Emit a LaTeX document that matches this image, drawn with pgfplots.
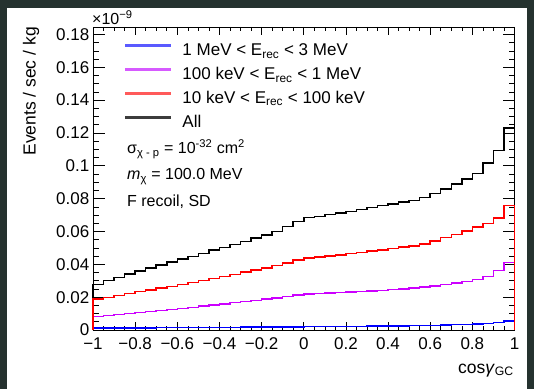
\documentclass[border=0pt]{standalone}
\usepackage{pgfplots}
\usepackage{pgfplotstable}
\pgfplotsset{compat=1.18}
\usepackage{fontspec}
\setmainfont{Liberation Sans}
\definecolor{rootblue}{RGB}{0,0,255}
\definecolor{rootmag}{RGB}{204,0,255}
\definecolor{rootred}{RGB}{255,0,0}
\definecolor{legblue}{RGB}{90,90,255}
\definecolor{legmag}{RGB}{214,90,255}
\definecolor{legred}{RGB}{255,90,90}
\definecolor{legblack}{RGB}{60,60,60}
\definecolor{bgdark}{RGB}{37,50,47}

\pgfplotstableread{
x      all     blue    mag     red
-1.00  0       0       0       0
-1.00  0.0278  0.0012  0.0082  0.0188
-0.95  0.0302  0.0012  0.0088  0.0198
-0.90  0.0321  0.0012  0.0094  0.0210
-0.85  0.0342  0.0013  0.0101  0.0222
-0.80  0.0360  0.0013  0.0107  0.0233
-0.75  0.0377  0.0013  0.0113  0.0244
-0.70  0.0396  0.0014  0.0119  0.0255
-0.65  0.0415  0.0014  0.0125  0.0266
-0.60  0.0431  0.0014  0.0131  0.0278
-0.55  0.0448  0.0015  0.0138  0.0290
-0.50  0.0467  0.0015  0.0145  0.0302
-0.45  0.0486  0.0015  0.0152  0.0314
-0.40  0.0503  0.0016  0.0159  0.0326
-0.35  0.0520  0.0016  0.0166  0.0339
-0.30  0.0539  0.0017  0.0173  0.0352
-0.25  0.0559  0.0017  0.0180  0.0365
-0.20  0.0579  0.0018  0.0188  0.0378
-0.15  0.0601  0.0018  0.0196  0.0392
-0.10  0.0629  0.0019  0.0204  0.0408
-0.05  0.0660  0.0019  0.0213  0.0425
 0.00  0.0685  0.0020  0.0219  0.0437
 0.05  0.0692  0.0020  0.0222  0.0444
 0.10  0.0702  0.0021  0.0225  0.0451
 0.15  0.0712  0.0021  0.0228  0.0458
 0.20  0.0723  0.0022  0.0231  0.0465
 0.25  0.0735  0.0022  0.0234  0.0472
 0.30  0.0747  0.0023  0.0238  0.0480
 0.35  0.0758  0.0023  0.0242  0.0488
 0.40  0.0768  0.0024  0.0246  0.0496
 0.45  0.0778  0.0025  0.0251  0.0504
 0.50  0.0790  0.0026  0.0256  0.0510
 0.55  0.0806  0.0027  0.0262  0.0525
 0.60  0.0832  0.0028  0.0268  0.0543
 0.65  0.0860  0.0030  0.0276  0.0562
 0.70  0.0890  0.0032  0.0285  0.0582
 0.75  0.0920  0.0034  0.0295  0.0603
 0.80  0.0952  0.0037  0.0307  0.0628
 0.85  0.1017  0.0041  0.0325  0.0650
 0.90  0.1094  0.0046  0.0362  0.0682
 0.95  0.1231  0.0055  0.0411  0.0757
 1.00  0.1231  0.0055  0.0411  0.0757
 1.00  0       0       0       0
}\histdata

\begin{document}
\begin{tikzpicture}
\useasboundingbox (0bp,0bp) rectangle (534bp,389bp);
\fill[bgdark] (0bp,0bp) rectangle (534bp,389bp);
\fill[white] (7bp,0bp) rectangle (527bp,381bp);
\begin{axis}[
  at={(93bp,59bp)}, anchor=south west,
  scale only axis, width=421.5bp, height=303bp,
  xmin=-1, xmax=1, ymin=0, ymax=0.1845,
  clip=false,
  axis line style={black, line width=0.8bp},
  tick pos=both, tick align=inside,
  xtick={-1,-0.8,-0.6,-0.4,-0.2,0,0.2,0.4,0.6,0.8,1},
  xticklabels={−1,−0.8,−0.6,−0.4,−0.2,0,0.2,0.4,0.6,0.8,1},
  ytick={0,0.02,0.04,0.06,0.08,0.1,0.12,0.14,0.16,0.18},
  yticklabels={0,0.02,0.04,0.06,0.08,0.1,0.12,0.14,0.16,0.18},
  minor x tick num=3, minor y tick num=3,
  xtick style={black, line width=0.6bp, /pgfplots/major tick length=8bp, /pgfplots/minor tick length=4bp},
  ytick style={black, line width=0.6bp, /pgfplots/major tick length=12bp, /pgfplots/minor tick length=6bp},
  minor tick style={black, line width=0.6bp},
  ticklabel style={font=\fontsize{17bp}{17bp}\selectfont},
  yticklabel style={inner sep=0pt, xshift=-3.5bp},
  xticklabel style={inner sep=0pt, yshift=-7.5bp},
  legend image code/.code={\draw[line width=2.5bp, #1] (0bp,5bp) -- (46bp,5bp);},
  legend cell align=left,
  legend style={draw=none, fill=none, at={(0.0735,0.947)}, anchor=north west,
    inner sep=0pt, outer sep=0pt, row sep=8.9bp, column sep=10bp,
    font=\fontsize{17bp}{17bp}\selectfont,
    nodes={inner sep=0pt, text height=12.5bp, text depth=2.5bp}},
]
\addplot[const plot mark left, black, line width=1.5bp, forget plot] table[x=x, y=all] {\histdata};
\addplot[const plot mark left, rootblue, line width=1.5bp, forget plot] table[x=x, y=blue] {\histdata};
\addplot[const plot mark left, rootmag, line width=1.5bp, forget plot] table[x=x, y=mag] {\histdata};
\addplot[const plot mark left, rootred, line width=1.5bp, forget plot] table[x=x, y=red] {\histdata};
\addlegendimage{color=legblue, line width=2.5bp}
\addlegendentry{1 MeV < E\textsubscript{rec} < 3 MeV}
\addlegendimage{color=legmag, line width=2.5bp}
\addlegendentry{100 keV < E\textsubscript{rec} < 1 MeV}
\addlegendimage{color=legred, line width=2.5bp}
\addlegendentry{10 keV < E\textsubscript{rec} < 100 keV}
\addlegendimage{color=legblack, line width=2.5bp}
\addlegendentry{All}
\end{axis}
\node[rotate=90, anchor=east, inner sep=0pt, font=\fontsize{17.5bp}{17.5bp}\selectfont] at (31bp,362bp) {Events / sec / kg};
\node[anchor=base east, inner sep=0pt, font=\fontsize{17.5bp}{17.5bp}\selectfont] at (514bp,16bp) {cos\textit{γ}\textsubscript{GC}};
\node[anchor=base west, inner sep=0pt, font=\fontsize{16bp}{16bp}\selectfont] at (92bp,364bp) {×10\textsuperscript{−9}};
\node[anchor=base west, inner sep=0pt, font=\fontsize{16bp}{16bp}\selectfont] at (127bp,235.5bp) {σ\textsubscript{χ - p} = 10\textsuperscript{-32} cm\textsuperscript{2}};
\node[anchor=base west, inner sep=0pt, font=\fontsize{16bp}{16bp}\selectfont] at (127bp,209bp) {\textit{m}\textsubscript{χ} = 100.0 MeV};
\node[anchor=base west, inner sep=0pt, font=\fontsize{16bp}{16bp}\selectfont] at (127bp,182.3bp) {F recoil, SD};
\end{tikzpicture}
\end{document}
